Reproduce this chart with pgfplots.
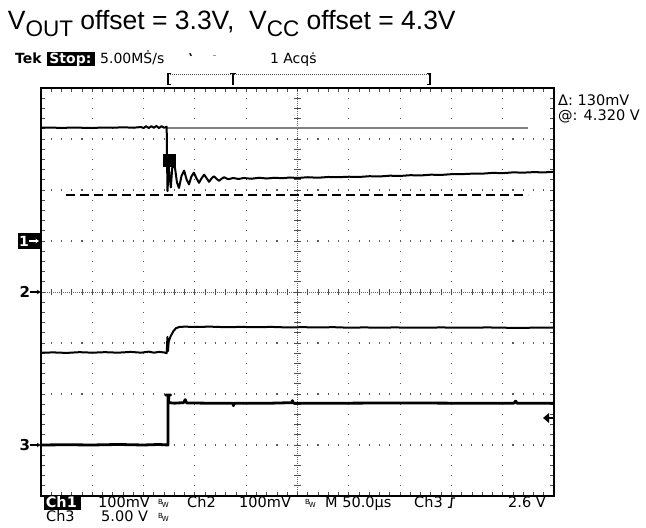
\documentclass[border=0pt]{standalone}
\usepackage{pgfplots}
\pgfplotsset{compat=1.18}
\usepackage{fontspec}
\setmainfont{Liberation Sans}
\newfontfamily\scopefont{DejaVu Sans}
\usetikzlibrary{arrows.meta}
\newcommand{\scf}{\scopefont\fontsize{14.5bp}{14.5bp}\selectfont}
\newcommand{\tsc}{\scopefont\fontsize{14bp}{14bp}\selectfont}
\newcommand{\bw}{{\scopefont\fontsize{7bp}{7bp}\selectfont\raisebox{3bp}{B}\kern-1.2bp W}}
\begin{document}
\begin{tikzpicture}
% ---------- graticule ----------
\begin{scope}[x=51.3bp,y=51bp]
\foreach \gx in {1,2,3,4,6,7,8,9}
  \draw[black!65, line width=1.1bp, dash pattern=on 1.1bp off 9.1bp, dash phase=0.55bp] (\gx,-4) -- (\gx,4);
\foreach \gy in {-3,-2,-1,1,2,3}
  \draw[black!65, line width=1.1bp, dash pattern=on 1.1bp off 9.16bp, dash phase=0.55bp] (0,\gy) -- (10,\gy);
\draw[black!60, line width=0.7bp, dash pattern=on 0.8bp off 1.2bp] (5,-4) -- (5,4) (0,0) -- (10,0);
\foreach \i in {1,...,49} {
  \draw[black!70, line width=0.8bp] (\i/5,-0.06) -- (\i/5,0.06);
  \draw[black!70, line width=0.8bp] (\i/5,4) -- (\i/5,3.93);
  \draw[black!70, line width=0.8bp] (\i/5,-4) -- (\i/5,-3.93);
}
\foreach \i in {1,...,39} {
  \draw[black!70, line width=0.8bp] (4.94,-4+\i/5) -- (5.06,-4+\i/5);
  \draw[black!70, line width=0.8bp] (0,-4+\i/5) -- (0.07,-4+\i/5);
  \draw[black!70, line width=0.8bp] (10,-4+\i/5) -- (9.93,-4+\i/5);
}
\end{scope}
% ---------- traces ----------
\begin{axis}[at={(0,0)}, anchor=origin, width=513bp, height=408bp, scale only axis,
  xmin=0, xmax=10, ymin=-4, ymax=4, ticks=none, clip=false,
  axis line style={line width=1.6bp, black}]
% cursors
\addplot[black!50, line width=1.6bp] coordinates {(2.456,3.216) (9.493,3.216)};
\addplot[black, line width=1.2bp, dash pattern=on 9bp off 5bp] coordinates {(0.487,1.902) (9.493,1.902)};
% Ch1 (VOUT)
\addplot[black, line width=2bp, line join=round] coordinates {
(0.00,3.22) (0.20,3.225) (0.40,3.215) (0.60,3.225) (0.80,3.22) (1.00,3.215) (1.20,3.225) (1.40,3.22) (1.60,3.23) (1.80,3.22)
(1.95,3.235) (2.00,3.215) (2.05,3.25) (2.10,3.215) (2.15,3.25) (2.20,3.22) (2.25,3.255) (2.30,3.215) (2.35,3.25) (2.40,3.22) (2.45,3.24)
(2.456,2.70) (2.466,1.98) (2.49,2.45) (2.53,2.05) (2.56,2.45) (2.61,2.45) (2.65,2.15) (2.69,2.04) (2.74,2.28) (2.79,2.38)
(2.84,2.20) (2.885,2.11) (2.93,2.26) (2.98,2.34) (3.03,2.23) (3.08,2.14) (3.13,2.23) (3.18,2.30) (3.23,2.23) (3.275,2.16)
(3.32,2.22) (3.37,2.27) (3.42,2.22) (3.47,2.18) (3.52,2.22) (3.57,2.25) (3.65,2.21) (3.75,2.235) (3.85,2.215) (3.95,2.235) (4.1,2.22)
(4.25,2.24) (4.4,2.225) (4.55,2.24) (4.7,2.23) (4.85,2.245) (5.0,2.235) (5.2,2.25) (5.4,2.24) (5.6,2.255) (5.8,2.25)
(6.0,2.26) (6.2,2.255) (6.4,2.27) (6.6,2.265) (6.8,2.28) (7.0,2.275) (7.2,2.29) (7.4,2.285) (7.6,2.30) (7.8,2.295)
(8.0,2.31) (8.2,2.31) (8.4,2.32) (8.6,2.32) (8.8,2.335) (9.0,2.33) (9.2,2.345) (9.4,2.34) (9.6,2.35) (9.8,2.345) (10.0,2.355)};
\addplot[fill=black, draw=black] coordinates {(2.384,2.706) (2.612,2.706) (2.612,2.457) (2.384,2.457)} -- cycle;
% Ch2 (VCC)
\addplot[black, line width=2bp, line join=round] coordinates {
(0.00,-1.19) (0.25,-1.185) (0.5,-1.195) (0.75,-1.18) (1.0,-1.19) (1.25,-1.18) (1.5,-1.19) (1.75,-1.175) (1.95,-1.19) (2.1,-1.17)
(2.2,-1.19) (2.3,-1.175) (2.4,-1.185) (2.45,-1.20) (2.465,-0.88) (2.475,-1.16) (2.49,-0.97) (2.53,-0.86) (2.58,-0.77) (2.63,-0.71)
(2.70,-0.685) (2.8,-0.68) (3.0,-0.685) (3.3,-0.68) (3.6,-0.69) (3.9,-0.685) (4.2,-0.69) (4.5,-0.685) (4.8,-0.695) (5.1,-0.69)
(5.4,-0.695) (5.7,-0.69) (6.0,-0.70) (6.3,-0.695) (6.6,-0.70) (6.9,-0.695) (7.2,-0.70) (7.5,-0.70) (7.8,-0.695) (8.1,-0.70)
(8.4,-0.70) (8.7,-0.695) (9.0,-0.70) (9.3,-0.705) (9.6,-0.70) (10.0,-0.70)};
% Ch3
\addplot[black, line width=2.8bp, line join=round] coordinates {
(0.00,-3.0) (0.5,-2.995) (1.0,-3.0) (1.5,-2.99) (2.0,-3.0) (2.3,-2.99) (2.476,-3.0) (2.476,-2.02) (2.43,-2.02) (2.53,-2.02)
(2.49,-2.02) (2.49,-2.17) (2.6,-2.18) (2.78,-2.17) (2.81,-2.11) (2.84,-2.175) (3.2,-2.18) (3.74,-2.18) (3.75,-2.23) (3.77,-2.18)
(4.5,-2.18) (4.89,-2.17) (4.9,-2.13) (4.92,-2.18) (6,-2.18) (7,-2.175) (8,-2.18) (9.22,-2.18) (9.25,-2.14) (9.28,-2.18) (10,-2.18)};
\end{axis}
% ---------- annotations ----------
\begin{scope}[x=51.3bp,y=51bp]
% title
\node[anchor=base west, inner sep=0, font=\fontsize{26.5bp}{30bp}\selectfont] at (-0.65,5.137)
  {V\raisebox{-7bp}{\fontsize{22.5bp}{22.5bp}\selectfont OUT} offset = 3.3V,\ \ V\raisebox{-7bp}{\fontsize{22.5bp}{22.5bp}\selectfont CC} offset = 4.3V};
% top status line
\node[anchor=base west, inner sep=0, font=\tsc\bfseries] at (-0.507,4.471) {Tek};
\fill (0.117,4.431) rectangle (1.053,4.706);
\node[anchor=base west, inner sep=0, font=\tsc\bfseries, text=white] at (0.16,4.471) {Stop:};
\node[anchor=base west, inner sep=0, font=\tsc] at (1.150,4.471) {5.00M\.{S}/s};
\draw[line width=1.3bp] (2.90,4.68) -- (2.93,4.63);
\draw[black!40, line width=1.1bp] (3.36,4.64) -- (3.42,4.64);
\node[anchor=base west, inner sep=0, font=\tsc] at (4.46,4.471) {1 Acq\.{s}};
% record bracket
\draw[black!70, line width=0.8bp, dash pattern=on 0.8bp off 1.2bp] (2.476,4.275) -- (7.583,4.275);
\draw[line width=1.1bp] (2.54,4.275) -- (2.476,4.275) -- (2.476,4.06) -- (2.54,4.06);
\draw[line width=1.1bp] (7.52,4.275) -- (7.583,4.275) -- (7.583,4.06) -- (7.52,4.06);
\draw[line width=1.1bp] (3.68,4.275) -- (3.81,4.275) (3.743,4.275) -- (3.743,4.06);
% channel markers
\fill (-0.448,0.843) rectangle (-0.02,1.157);
\node[anchor=west, inner sep=0, text=white, font=\scopefont\bfseries\fontsize{14bp}{14bp}\selectfont] at (-0.43,1) {1};
\draw[white, line width=1.2bp, -{Stealth[length=3.5bp,width=4.5bp]}] (-0.23,1) -- (-0.04,1);
\node[anchor=west, inner sep=0, font=\scopefont\bfseries\fontsize{15bp}{15bp}\selectfont] at (-0.42,0) {2};
\draw[line width=1.2bp, -{Stealth[length=3.5bp,width=4.5bp]}] (-0.22,0) -- (-0.01,0);
\node[anchor=west, inner sep=0, font=\scopefont\bfseries\fontsize{15bp}{15bp}\selectfont] at (-0.42,-3) {3};
\draw[line width=1.2bp, -{Stealth[length=3.5bp,width=4.5bp]}] (-0.22,-3) -- (-0.01,-3);
% trigger level arrow
\fill (9.786,-2.47) -- (9.903,-2.373) -- (9.903,-2.569) -- cycle;
\draw[line width=1.2bp] (9.90,-2.47) -- (10,-2.47);
% cursor readout
\node[anchor=base west, inner sep=0, font=\scf] at (10.078,3.647) {Δ: 130mV};
\node[anchor=base west, inner sep=0, font=\scf] at (10.078,3.353) {@: 4.320 V};
% bottom status
\fill (0.058,-4.00) rectangle (0.780,-4.27);
\node[anchor=base west, inner sep=0, font=\scf\bfseries, text=white] at (0.09,-4.226) {Ch1};
\node[anchor=base west, inner sep=0, font=\scf] at (1.111,-4.226) {100mV};
\node[anchor=base west, inner sep=0] at (2.281,-4.226) {\bw};
\node[anchor=base west, inner sep=0, font=\scf] at (2.846,-4.226) {Ch2};
\node[anchor=base west, inner sep=0, font=\scf] at (3.860,-4.226) {100mV};
\node[anchor=base west, inner sep=0] at (5.146,-4.226) {\bw};
\node[anchor=base west, inner sep=0, font=\scf] at (5.536,-4.226) {M 50.0µs};
\node[anchor=base west, inner sep=0, font=\scf] at (7.271,-4.226) {Ch3};
\draw[line width=1.4bp] (7.93,-4.22) -- (7.99,-4.22) -- (8.01,-4.04) -- (8.07,-4.04);
\node[anchor=base west, inner sep=0, font=\scf] at (9.103,-4.226) {2.6 V};
\node[anchor=base west, inner sep=0, font=\scf] at (0.097,-4.50) {Ch3};
\node[anchor=base west, inner sep=0, font=\scf] at (1.170,-4.50) {5.00 V};
\node[anchor=base west, inner sep=0] at (2.281,-4.50) {\bw};
% page size
\pgfresetboundingbox
\path[use as bounding box] (-0.799,-4.627) rectangle (11.793,5.725);
\end{scope}
\end{tikzpicture}
\end{document}
